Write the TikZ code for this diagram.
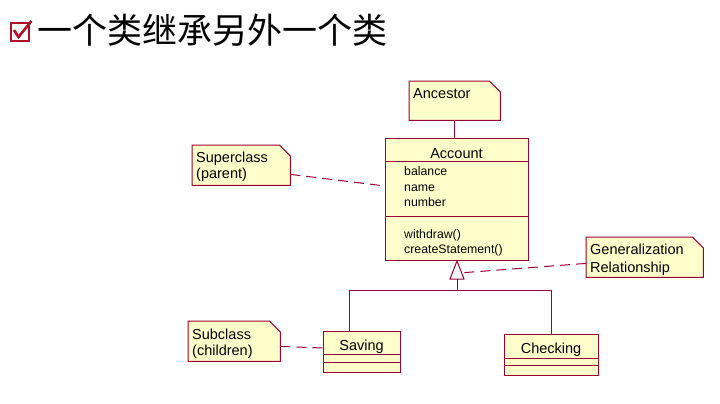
\documentclass[tikz,border=0pt]{standalone}
\usepackage{fontspec}
\setmainfont{Liberation Sans}
\newfontfamily\cjk{Noto Sans CJK SC}
\usetikzlibrary{calc}
\definecolor{umlline}{HTML}{990033}
\definecolor{umlfill}{HTML}{FFFFCC}
\definecolor{checkred}{HTML}{B0102A}
\begin{document}
\begin{tikzpicture}[x=1pt,y=-1pt,
  classbox/.style={draw=umlline, fill=umlfill, line width=1pt, inner sep=0pt, anchor=north west},
  notebox/.style={inner sep=0pt, anchor=north west},
  noteline/.style={draw=umlline, fill=umlfill, line width=1pt, line join=miter},
  umlconn/.style={draw=umlline, line width=1pt},
  notelink/.style={draw=umlline, line width=1pt, dash pattern=on 10pt off 6pt},
  notetxt/.style={inner sep=0pt, anchor=base west, font=\fontsize{14.5}{17}\selectfont},
  nametxt/.style={inner sep=0pt, anchor=base, font=\fontsize{14.5}{17}\selectfont},
  membertxt/.style={inner sep=0pt, anchor=base west, font=\fontsize{12.3}{15}\selectfont},
]
\useasboundingbox (0,0) rectangle (720,404);
\fill[white] (0,0) rectangle (720,404);

% title
\draw[checkred, line width=2pt] (11,23) rectangle (29,41);
\draw[checkred, line width=2.6pt, line join=miter] (14,30) -- (18.5,37) -- (31.5,21);
\node[inner sep=0pt, anchor=base west, font=\cjk\fontsize{35}{40}\selectfont] (title) at (37,44) {一个类继承另外一个类};

% notes
\node[notebox, minimum width=91pt, minimum height=39pt] (anc) at (409,81) {};
\path[noteline] (anc.north west) -- ([xshift=-11pt]anc.north east) -- ([yshift=-11pt]anc.north east) -- (anc.south east) -- (anc.south west) -- cycle;
\node[notetxt] (anct) at (413,98) {Ancestor};

\node[notebox, minimum width=98pt, minimum height=40pt] (sup) at (192,145) {};
\path[noteline] (sup.north west) -- ([xshift=-11pt]sup.north east) -- ([yshift=-11pt]sup.north east) -- (sup.south east) -- (sup.south west) -- cycle;
\node[notetxt] (supt1) at (196,162) {Superclass};
\node[notetxt] (supt2) at (196,178) {(parent)};

\node[notebox, minimum width=117pt, minimum height=40pt] (gen) at (586,237) {};
\path[noteline] (gen.north west) -- ([xshift=-11pt]gen.north east) -- ([yshift=-11pt]gen.north east) -- (gen.south east) -- (gen.south west) -- cycle;
\node[notetxt] (gent1) at (590,254) {Generalization};
\node[notetxt] (gent2) at (590,272) {Relationship};

\node[notebox, minimum width=92pt, minimum height=40pt] (sub) at (188,321) {};
\path[noteline] (sub.north west) -- ([xshift=-11pt]sub.north east) -- ([yshift=-11pt]sub.north east) -- (sub.south east) -- (sub.south west) -- cycle;
\node[notetxt] (subt1) at (192,339) {Subclass};
\node[notetxt] (subt2) at (192,355) {(children)};

% classes
\node[classbox, minimum width=143pt, minimum height=122pt] (acc) at (385,138) {};
\draw[umlconn] ($(acc.north west)+(0,23)$) -- ($(acc.north east)+(0,23)$);
\draw[umlconn] ($(acc.north west)+(0,78)$) -- ($(acc.north east)+(0,78)$);
\node[nametxt] (accn) at (456.5,158) {Account};
\node[membertxt] (a1) at (404,175.5) {balance};
\node[membertxt] (a2) at (404,191) {name};
\node[membertxt] (a3) at (404,206.5) {number};
\node[membertxt] (m1) at (404,238) {withdraw()};
\node[membertxt] (m2) at (404,253) {createStatement()};

\node[classbox, minimum width=77pt, minimum height=41pt] (sav) at (323,331) {};
\draw[umlconn] ($(sav.north west)+(0,23)$) -- ($(sav.north east)+(0,23)$);
\draw[umlconn] ($(sav.north west)+(0,31)$) -- ($(sav.north east)+(0,31)$);
\node[nametxt] (savn) at (361.5,350) {Saving};

\node[classbox, minimum width=94pt, minimum height=41pt] (chk) at (504,334) {};
\draw[umlconn] ($(chk.north west)+(0,24)$) -- ($(chk.north east)+(0,24)$);
\draw[umlconn] ($(chk.north west)+(0,31)$) -- ($(chk.north east)+(0,31)$);
\node[nametxt] (chkn) at (551,353) {Checking};

% generalization
\coordinate (tb) at ($(acc.south)+(0,18)$);
\coordinate (bus) at (457,290);
\coordinate (sj) at ($(sav.north west)+(26,0)$);
\draw[umlconn, fill=white, line join=miter] (acc.south) -- ($(tb)+(-7,0)$) -- ($(tb)+(7,0)$) -- cycle;
\draw[umlconn] (tb) -- (tb |- bus);
\draw[umlconn] (sj) -- (sj |- bus) -- (chk.north |- bus) -- (chk.north);

% note links
\draw[umlconn] (anc.south) -- (anc.south |- acc.north);
\draw[notelink] ($(sup.south east)+(0,-11)$) -- ($(acc.north west)+(0,48)$);
\draw[notelink] ($(gen.south west)+(0,-14)$) -- ($(tb)+(2,-6)$);
\draw[notelink] ($(sub.south east)+(0,-15)$) -- ($(sav.north west)+(0,17)$);
\end{tikzpicture}
\end{document}
